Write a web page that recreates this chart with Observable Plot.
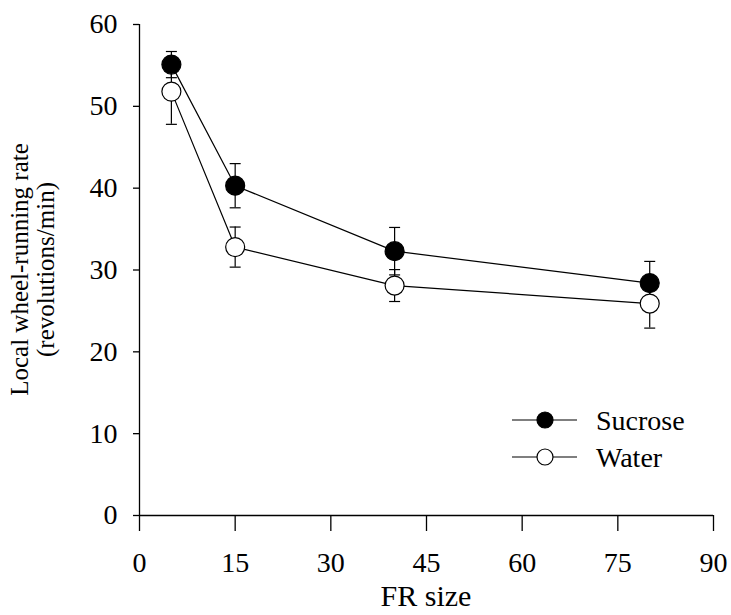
<!DOCTYPE html>
<html><head><meta charset="utf-8">
<script src="https://cdn.jsdelivr.net/npm/d3@7"></script>
<script src="https://cdn.jsdelivr.net/npm/@observablehq/plot@0.6"></script>
<style>
html,body{margin:0;padding:0;background:#fff}
#chart svg{display:block}
</style>
</head><body><div id="chart"></div>
<script>
// ---- data ----
const frSizes = [5, 15, 40, 80];
const sucroseMean = [55.1, 40.3, 32.3, 28.4];
const sucroseErr  = [1.6, 2.7, 2.9, 2.65];
const waterMean   = [51.8, 32.8, 28.1, 25.9];
const waterErr    = [4.0, 2.45, 1.95, 3.0];
const xTicks = [0, 15, 30, 45, 60, 75, 90];
const yTicks = [0, 10, 20, 30, 40, 50, 60];
const seriesNames = ["Sucrose", "Water"];
const xTitle = "FR size";
const yTitleLines = ["Local wheel-running rate", "(revolutions/min)"];

const rows = [];
frSizes.forEach((x, i) => {
  rows.push({group: seriesNames[0], x, y: sucroseMean[i], e: sucroseErr[i]});
  rows.push({group: seriesNames[1], x, y: waterMean[i], e: waterErr[i]});
});
const sucRows = rows.filter(d => d.group === seriesNames[0]);
const watRows = rows.filter(d => d.group === seriesNames[1]);

const capSymbol = {draw(ctx) { ctx.moveTo(-5.5, 0); ctx.lineTo(5.5, 0); }};
const W = 731, H = 615, ML = 139, MR = 18, MT = 24, MB = 100;
const font = "Liberation Serif";

const plot = Plot.plot({
  width: W, height: H,
  marginLeft: ML, marginRight: MR, marginTop: MT, marginBottom: MB,
  style: {fontFamily: font, background: "#fff", color: "#000", overflow: "visible"},
  x: {domain: [0, 90]},
  y: {domain: [0, 60]},
  marks: [
    Plot.axisX({ticks: xTicks, tickSize: 16, tickPadding: 21, label: null, fontSize: 28, strokeWidth: 1.3}),
    Plot.axisY({ticks: yTicks, tickSize: 6, tickPadding: 16, label: null, fontSize: 28, strokeWidth: 1.3}),
    Plot.ruleY([0], {stroke: "#000", strokeWidth: 1.3}),
    Plot.ruleX([0], {stroke: "#000", strokeWidth: 1.3}),
    Plot.line(rows, {x: "x", y: "y", z: "group", stroke: "#000", strokeWidth: 1.2}),
    Plot.ruleX(rows, {x: "x", y1: d => d.y - d.e, y2: d => d.y + d.e, stroke: "#000", strokeWidth: 1.2}),
    Plot.dot(rows, {x: "x", y: d => d.y + d.e, symbol: capSymbol, r: 5, fill: "none", stroke: "#000", strokeWidth: 1.2}),
    Plot.dot(rows, {x: "x", y: d => d.y - d.e, symbol: capSymbol, r: 5, fill: "none", stroke: "#000", strokeWidth: 1.2}),
    Plot.dot(watRows, {x: "x", y: "y", r: 9.5, fill: "#fff", stroke: "#000", strokeWidth: 1.2}),
    Plot.dot(sucRows, {x: "x", y: "y", r: 9.5, fill: "#000", stroke: "#000", strokeWidth: 1.2})
  ]
});
document.getElementById("chart").appendChild(plot);

// titles and legend
const svg = d3.select(plot);
svg.append("text")
  .attr("x", ML + (W - ML - MR) / 2).attr("y", 606)
  .attr("text-anchor", "middle").attr("font-family", font).attr("font-size", 30).attr("fill", "#000")
  .text(xTitle);
const yt = svg.append("text")
  .attr("transform", `translate(0,${MT + (H - MT - MB) / 2}) rotate(-90)`)
  .attr("text-anchor", "middle").attr("font-family", font).attr("font-size", 25).attr("fill", "#000");
yt.append("tspan").attr("x", 0).attr("y", 28).text(yTitleLines[0]);
yt.append("tspan").attr("x", 0).attr("y", 54).text(yTitleLines[1]);

const leg = svg.append("g");
seriesNames.forEach((name, i) => {
  const cy = 420 + i * 37;
  leg.append("line").attr("x1", 512).attr("x2", 577).attr("y1", cy).attr("y2", cy).attr("stroke", "#000").attr("stroke-width", 1.2);
  leg.append("circle").attr("cx", 545).attr("cy", cy).attr("r", 8)
    .attr("fill", i === 0 ? "#000" : "#fff").attr("stroke", "#000").attr("stroke-width", 1.2);
  leg.append("text").attr("x", 596).attr("y", cy + 10).attr("text-anchor", "start")
    .attr("font-family", font).attr("font-size", 28).attr("fill", "#000").text(name);
});
</script>
</body></html>
